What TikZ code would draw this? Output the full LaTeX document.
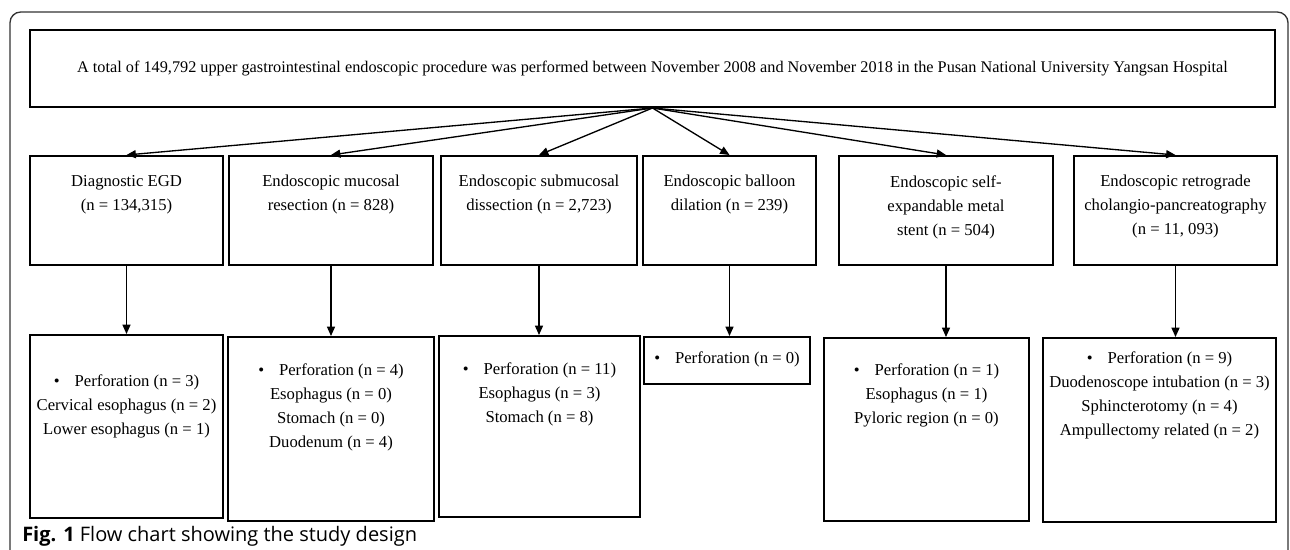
\documentclass[tikz,border=0pt]{standalone}
\usepackage{fontspec}
\setmainfont{Liberation Serif}
\newfontfamily\capfont{Open Sans}
\usetikzlibrary{
    arrows.meta,
    calc,
    positioning
}
\newlength\px
\setlength\px{0.75pt}

\begin{document}
\begin{tikzpicture}[x=0.75pt, y=-0.75pt,
        box/.style={draw, line width=1.5pt, rectangle, inner sep=0pt, anchor=north west},
        txt/.style={align=center, anchor=north, inner sep=0pt, font=\fontsize{12.5}{18}\selectfont},
        arr/.style={-{Triangle[length=7pt, width=6pt]}, line width=1pt}]
    \useasboundingbox (0,0) rectangle (1290,550);
    % outer frame
    \draw[line width=1pt, black!80, rounded corners=8pt] (10,550) -- (10,12) -- (1288,12) -- (1288,550);

    \node[box, minimum width=1245\px, minimum height=77\px] (t) at (29,29) {};
    \node[txt, anchor=center, font=\fontsize{12.2}{18}\selectfont] (tt) at (t.center) {A total of 149,792 upper gastrointestinal endoscopic procedure was performed between November 2008 and November 2018 in the Pusan National University Yangsan Hospital};

    % procedures
    \node[box, minimum width=193\px, minimum height=109\px] (m1) at (29,155) {};
    \node[box, minimum width=204\px, minimum height=109\px] (m2) at (228,155) {};
    \node[box, minimum width=196\px, minimum height=109\px] (m3) at (440,155) {};
    \node[box, minimum width=173\px, minimum height=109\px] (m4) at (642,155) {};
    \node[box, minimum width=214\px, minimum height=109\px] (m5) at (838,155) {};
    \node[box, minimum width=203\px, minimum height=109\px] (m6) at (1073,155) {};
    \node[txt] (m1t) at ($(m1.north)+(0,20)$) {Diagnostic EGD\\(n = 134,315)};
    \node[txt] (m2t) at ($(m2.north)+(0,20)$) {Endoscopic mucosal\\resection (n = 828)};
    \node[txt] (m3t) at ($(m3.north)+(0,20)$) {Endoscopic submucosal\\dissection (n = 2,723)};
    \node[txt] (m4t) at ($(m4.north)+(0,20)$) {Endoscopic balloon\\dilation (n = 239)};
    \node[txt] (m5t) at ($(m5.north)+(0,20)$) {Endoscopic self-\\expandable metal\\stent (n = 504)};
    \node[txt] (m6t) at ($(m6.north)+(0,20)$) {Endoscopic retrograde\\cholangio-pancreatography\\(n = 11, 093)};

    % perforations
    \node[box, minimum width=193\px, minimum height=183\px] (r1) at (29,334) {};
    \node[box, minimum width=206\px, minimum height=184\px] (r2) at (227,336) {};
    \node[box, minimum width=201\px, minimum height=181\px] (r3) at (438,335) {};
    \node[box, minimum width=166\px, minimum height=47\px] (r4) at (643,336) {};
    \node[box, minimum width=205\px, minimum height=183\px] (r5) at (823,337) {};
    \node[box, minimum width=233\px, minimum height=184\px] (r6) at (1042,337) {};
    \node[txt] (r1t) at ($(r1.north)+(0,40)$) {\textbullet\hspace{0.9em}Perforation (n = 3)\\Cervical esophagus (n = 2)\\Lower esophagus (n = 1)};
    \node[txt] (r2t) at ($(r2.north)+(0,27)$) {\textbullet\hspace{0.9em}Perforation (n = 4)\\Esophagus (n = 0)\\Stomach (n = 0)\\Duodenum (n = 4)};
    \node[txt] (r3t) at ($(r3.north)+(0,27)$) {\textbullet\hspace{0.9em}Perforation (n = 11)\\Esophagus (n = 3)\\Stomach (n = 8)};
    \node[txt] (r4t) at ($(r4.north)+(0,15)$) {\textbullet\hspace{0.9em}Perforation (n = 0)};
    \node[txt] (r5t) at ($(r5.north)+(0,26)$) {\textbullet\hspace{0.9em}Perforation (n = 1)\\Esophagus (n = 1)\\Pyloric region (n = 0)};
    \node[txt] (r6t) at ($(r6.north)+(0,14)$) {\textbullet\hspace{0.9em}Perforation (n = 9)\\Duodenoscope intubation (n = 3)\\Sphincterotomy (n = 4)\\Ampullectomy related (n = 2)};

    \foreach \i in {1,...,6}{
        \draw[arr] (t.south) -- (m\i.north);
        \draw[arr] (m\i.south) -- (m\i.south |- r\i.north);
    }

    \node[anchor=base west, inner sep=0pt, font=\capfont\fontsize{15}{17}\selectfont] (cap) at (22,541) {\textbf{Fig. 1} Flow chart showing the study design};
\end{tikzpicture}
\end{document}
